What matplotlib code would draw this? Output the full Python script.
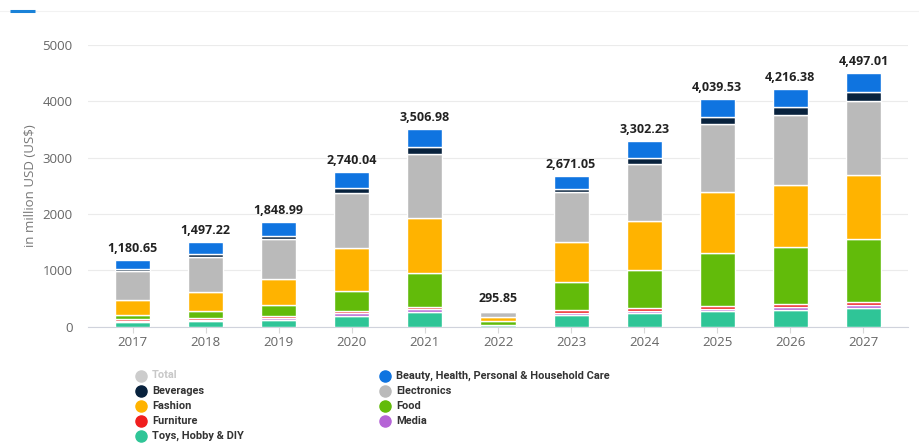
import matplotlib
matplotlib.use("Agg")
import matplotlib.pyplot as plt
from matplotlib.lines import Line2D
import numpy as np

plt.rcParams['font.family'] = ['Open Sans', 'DejaVu Sans']

years = ['2017', '2018', '2019', '2020', '2021', '2022',
         '2023', '2024', '2025', '2026', '2027']
totals = [1180.65, 1497.22, 1848.99, 2740.04, 3506.98, 295.85,
          2671.05, 3302.23, 4039.53, 4216.38, 4497.01]

# segments, bottom to top
toys = [80, 95, 120, 190, 265, 20, 210, 235, 270, 300, 330]
media = [22, 25, 35, 45, 40, 5, 30, 40, 45, 45, 45]
furniture = [28, 35, 40, 45, 45, 5, 45, 60, 55, 60, 60]
food = [75, 120, 185, 350, 600, 60, 510, 675, 935, 1010, 1120]
fashion = [270, 345, 470, 760, 985, 80, 710, 860, 1080, 1090, 1130]
electronics = [510, 620, 700, 990, 1135, 95, 880, 1020, 1215, 1245, 1315]
beverages = [40, 42, 55, 80, 120, 10, 65, 95, 115, 145, 165]
beauty = [155.65, 215.22, 243.99, 280.04, 316.98, 20.85,
          221.05, 317.23, 324.53, 321.38, 332.01]

series = [
    ('Toys, Hobby & DIY', toys, '#2fc597'),
    ('Media', media, '#b564d6'),
    ('Furniture', furniture, '#f01e1e'),
    ('Food', food, '#62bb0a'),
    ('Fashion', fashion, '#ffb300'),
    ('Electronics', electronics, '#bababa'),
    ('Beverages', beverages, '#08223d'),
    ('Beauty, Health, Personal & Household Care', beauty, '#0f74e0'),
]
colors = {name: c for name, _, c in series}

fig = plt.figure(figsize=(9.19, 4.45), dpi=100)
ax = fig.add_axes([88 / 919, 1 - 326.5 / 445, 820 / 919, 281.5 / 445])

x = np.arange(len(years))
bottom = np.zeros(len(years))
for name, vals, col in series:
    ax.bar(x, vals, 0.48, bottom=bottom, color=col,
           edgecolor='white', linewidth=1.0, zorder=3)
    bottom += np.array(vals)

for xi, t in zip(x, totals):
    ax.text(xi, t + 90, f'{t:,.2f}', ha='center', va='bottom',
            fontsize=9, fontweight='bold', color='#222222')

ax.set_xlim(-0.61, 10.61)
ax.set_ylim(0, 5000)
ax.set_yticks([0, 1000, 2000, 3000, 4000, 5000])
ax.set_xticks(x)
ax.set_xticklabels(years)
ax.tick_params(axis='y', length=0, pad=11, labelsize=9.5, labelcolor='#666666')
ax.tick_params(axis='x', length=4, width=0.8, color='#d8d8d8', pad=3,
               labelsize=9.5, labelcolor='#666666')
ax.grid(axis='y', color='#ebebeb', linewidth=0.8, zorder=0)
for s in ['top', 'right', 'left']:
    ax.spines[s].set_visible(False)
ax.spines['bottom'].set_color('#d0d3dc')
ax.spines['bottom'].set_linewidth(0.8)

ax.set_ylabel('in million USD (US$)', fontsize=9.5, color='#777777')
ax.yaxis.set_label_coords(-0.062, 0.5)

# top bar of the page
fig.add_artist(Line2D([0, 1], [1 - 11 / 445] * 2, color='#f2f2f2', linewidth=0.8))
fig.add_artist(Line2D([10 / 919, 35 / 919], [1 - 11 / 445] * 2,
                      color='#1a82d8', linewidth=2.2, solid_capstyle='butt'))

# legend in two columns
left_col = [('Total', '#cccccc'), ('Beverages', colors['Beverages']),
            ('Fashion', colors['Fashion']), ('Furniture', colors['Furniture']),
            ('Toys, Hobby & DIY', colors['Toys, Hobby & DIY'])]
right_col = [('Beauty, Health, Personal & Household Care',
              colors['Beauty, Health, Personal & Household Care']),
             ('Electronics', colors['Electronics']), ('Food', colors['Food']),
             ('Media', colors['Media'])]
for cx, entries in [(141, left_col), (385, right_col)]:
    for i, (lab, col) in enumerate(entries):
        yy = 1 - (375.5 + i * 15.2) / 445
        fig.add_artist(Line2D([cx / 919], [yy], marker='o', markersize=8,
                              color=col, linestyle='none'))
        tcol = '#c8c8c8' if lab == 'Total' else '#333333'
        fig.text((cx + 11) / 919, yy, lab, fontsize=7.9, fontweight='bold',
                 color=tcol, va='center', ha='left',
                 family=['Roboto', 'DejaVu Sans'])

fig.savefig('out.png', dpi=100)
